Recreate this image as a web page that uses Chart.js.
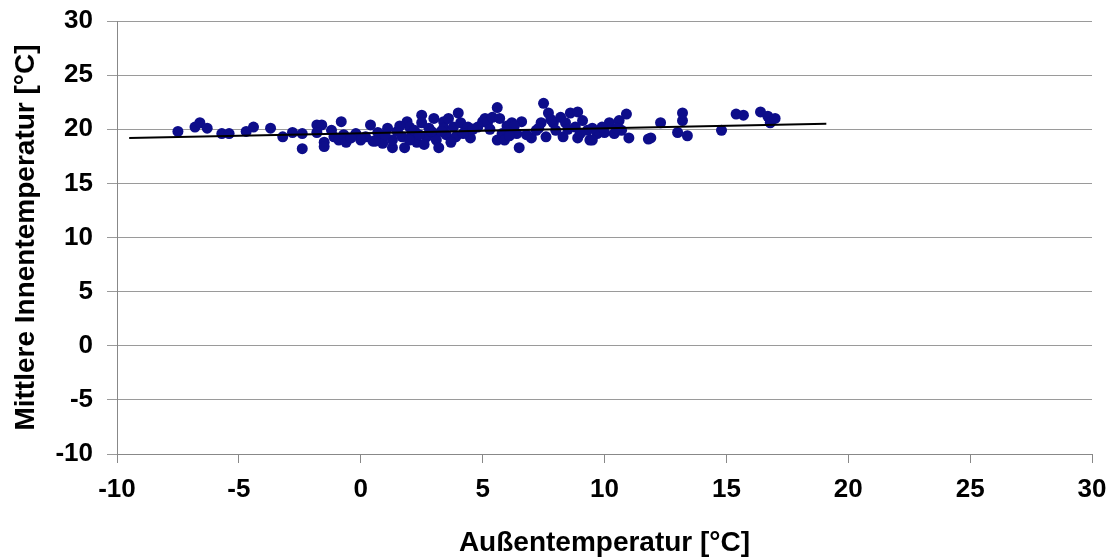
<!DOCTYPE html>
<html>
<head>
<meta charset="utf-8">
<script src="https://cdn.jsdelivr.net/npm/chart.js@4/dist/chart.umd.min.js"></script>
<style>
  html, body { margin: 0; padding: 0; background: #fff; }
  #wrap { width: 1117px; height: 559px; position: relative; }
</style>
</head>
<body>
<div id="wrap"><canvas id="c" width="1117" height="559"></canvas></div>
<script>
// Außentemperatur (x) and Mittlere Innentemperatur (y) of each measured day
const outdoorTemp = [
  -7.5, -6.8, -6.6, -6.3, -5.7, -5.4, -4.7, -4.4, -3.7, -3.2, -2.8, -2.4, -2.4, -1.8, -1.6, -1.8, -1.5, -1.5,
  -0.8, -1.1, -0.9, -0.7, -0.6, -0.2, 0.2, 0.4, 0.7, 0.9, 0.9, 1.1, 1.3, 1.3, 1.7, 1.8, 1.9, 2.0, 2.1, 2.2,
  2.3, 2.5, 2.5, 2.7, 2.8, 3.0, 3.0, 3.1, 3.2, 3.4, 3.4, 3.5, 3.6, 3.8, 3.9, 4.0, 4.1, 4.3, 4.4, 4.5, 4.8,
  5.0, 5.1, 5.2, 5.4, 5.6, 5.7, 5.6, 5.8, 5.9, 6.2, 6.4, 6.5, 6.6, 7.0, 7.2, 7.4, 7.5, 7.6, 7.7, 7.9, 8.0,
  8.2, 8.3, 8.4, 8.6, 8.8, 8.9, 8.9, 9.1, 9.3, 9.4, 9.7, 9.5, 9.5, 10.0, 10.2, 10.4, 10.6, 10.9, 10.7, 11.0,
  11.8, 11.9, 12.3, 13.0, 13.2, 13.2, 13.4, 14.8, 15.4, 15.7, 16.4, 16.7, 16.8, 17.0,
  0.0, 0.5, 1.5, 1.6, 2.4, 2.6, 3.3, 4.6, 6.0, 6.8, 7.8,
  0.6, 1.0, 2.0, 2.9, 3.7, 4.2, 5.3, 6.1, 6.3, 7.3, 8.5, 9.0, 9.9, 10.5, -1.2, -0.4
];
const indoorTemp = [
  19.8, 20.2, 20.6, 20.1, 19.6, 19.6, 19.8, 20.2, 20.1, 19.3, 19.7, 19.6, 18.2, 20.4, 20.4, 19.7, 18.8, 18.4,
  20.7, 19.3, 19.0, 19.5, 18.8, 19.6, 19.3, 20.4, 19.7, 19.3, 18.7, 20.1, 18.3, 19.0, 19.3, 18.3, 20.7, 20.2, 19.6, 19.9,
  18.8, 21.3, 20.6, 19.3, 20.1, 21.0, 19.6, 19.0, 18.3, 20.7, 20.1, 19.5, 21.0, 20.2, 19.3, 21.5, 20.6, 19.9, 20.2, 19.2, 20.2,
  20.7, 21.0, 20.6, 21.1, 22.0, 21.0, 19.0, 19.6, 19.0, 20.6, 19.6, 18.3, 20.7, 19.2, 19.9, 20.6, 22.4, 19.3, 21.5, 20.6, 19.9,
  21.1, 19.3, 20.6, 21.5, 20.2, 21.6, 19.2, 20.8, 19.9, 19.0, 19.6, 20.1, 19.0, 19.7, 20.6, 19.6, 20.8, 21.4, 19.9, 19.2,
  19.1, 19.2, 20.6, 19.7, 20.8, 21.5, 19.4, 19.9, 21.4, 21.3, 21.6, 21.2, 20.6, 21.0,
  19.0, 18.9, 19.8, 20.3, 19.5, 18.6, 19.8, 20.0, 20.3, 19.5, 20.9,
  18.9, 19.5, 19.0, 19.8, 18.8, 19.6, 20.0, 19.4, 20.3, 20.1, 20.0, 19.6, 20.2, 20.1, 19.9, 19.2
];
// linear trend line end points
const trendX = [-9.5, 19.1];
const trendY = [19.2, 20.5];
// axis tick values
const xTicks = [-10, -5, 0, 5, 10, 15, 20, 25, 30];
const yTicks = [-10, -5, 0, 5, 10, 15, 20, 25, 30];

const points = outdoorTemp.map((x, i) => ({ x: x, y: indoorTemp[i] }));
const trend = trendX.map((x, i) => ({ x: x, y: trendY[i] }));

const FONT = "'Liberation Sans', Arial, sans-serif";

new Chart(document.getElementById('c'), {
  type: 'scatter',
  data: {
    datasets: [
      {
        label: 'Tage',
        data: points,
        backgroundColor: '#0d0d8a',
        borderColor: '#0d0d8a',
        pointRadius: 5.5,
        pointHoverRadius: 5.5,
        borderWidth: 0,
        order: 2
      },
      {
        label: 'Trend',
        type: 'line',
        data: trend,
        borderColor: '#000000',
        borderWidth: 2,
        pointRadius: 0,
        fill: false,
        order: 1
      }
    ]
  },
  options: {
    responsive: false,
    animation: false,
    layout: { padding: { top: 21, right: 25, bottom: 0, left: 0 } },
    plugins: { legend: { display: false }, tooltip: { enabled: false } },
    scales: {
      x: {
        type: 'linear',
        min: -10, max: 30,
        afterBuildTicks: s => { s.ticks = xTicks.map(v => ({ value: v })); },
        afterFit: s => { s.height = 105; s.paddingLeft = 0; s.paddingRight = 0; },
        grid: { color: 'transparent', tickColor: '#888', tickLength: 9, drawOnChartArea: false },
        border: { color: '#888', width: 1 },
        ticks: { color: '#000', padding: 14, font: { family: FONT, size: 26, weight: 'bold', lineHeight: 1.0 }, maxRotation: 0 },
        title: { display: true, text: 'Außentemperatur [°C]', color: '#000',
                 font: { family: FONT, size: 28, weight: 'bold', lineHeight: 1.0 }, padding: { top: 0, bottom: 2 } }
      },
      y: {
        type: 'linear',
        min: -10, max: 30,
        afterBuildTicks: s => { s.ticks = yTicks.map(v => ({ value: v })); },
        afterFit: s => { s.width = 117; s.paddingTop = 0; s.paddingBottom = 0; },
        grid: { color: '#9a9a9a', tickColor: '#9a9a9a', tickLength: 10, lineWidth: 1 },
        border: { color: '#888', width: 1 },
        ticks: { color: '#000', padding: 14, font: { family: FONT, size: 26, weight: 'bold', lineHeight: 1.0 } },
        title: { display: true, text: 'Mittlere Innentemperatur [°C]', color: '#000',
                 font: { family: FONT, size: 28, weight: 'bold', lineHeight: 1.0 }, padding: { top: 12, bottom: 0 } }
      }
    }
  }
});
</script>
</body>
</html>
